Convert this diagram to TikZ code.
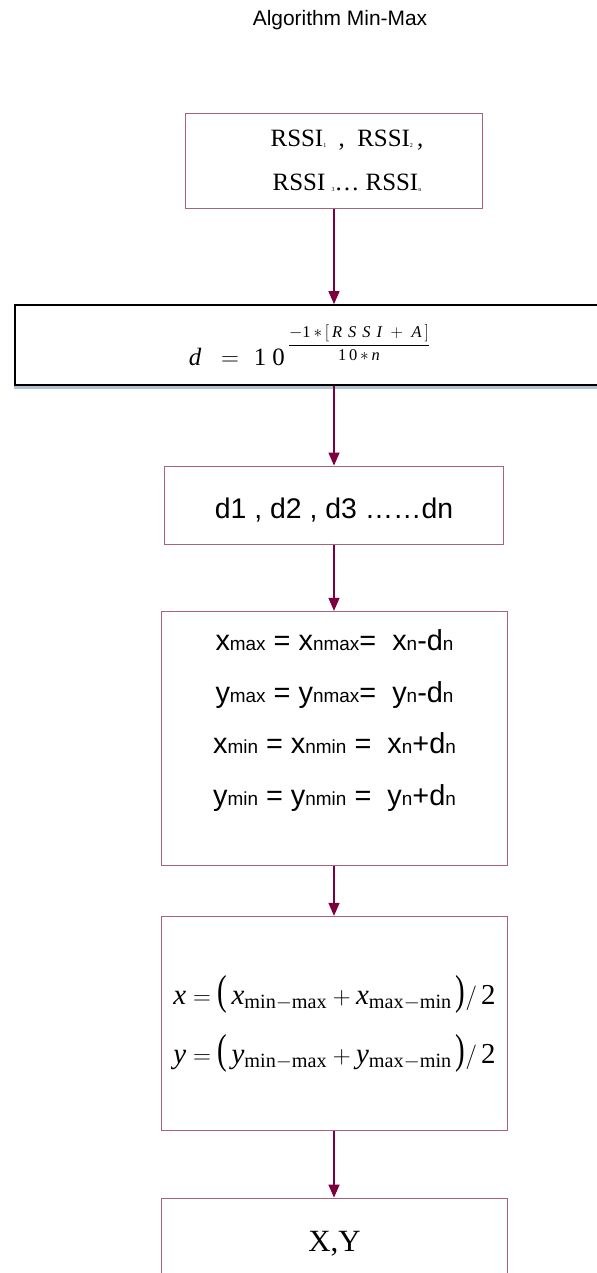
\documentclass[tikz,border=0pt]{standalone}
\usepackage{amsmath}
\usepackage{graphicx}
\usepackage{fontspec}
\setmainfont{Liberation Serif}
\newfontfamily\arialf{Liberation Sans}
\usepackage{tikz}
\usetikzlibrary{arrows.meta,calc,positioning}
\definecolor{boxline}{RGB}{166,98,128}
\definecolor{arrline}{RGB}{125,0,60}
\definecolor{shadeblue}{RGB}{175,195,215}
\newcommand{\tsub}[1]{\raisebox{-1bp}{\fontsize{6}{6}\selectfont #1}}
\newcommand{\lsub}[1]{{\fontsize{19}{19}\selectfont #1}}
\newcommand{\mm}[2]{\mathrm{#1}-\mathrm{#2}}
\newcommand{\gap}{\hspace{6bp}}
\newcommand{\tallp}[1]{\mbox{\scalebox{1}[1.45]{#1}}}

\begin{document}
\begin{tikzpicture}[x=1bp,y=-1bp,>={Triangle[length=13bp,width=11bp]},
  flowbox/.style={draw=boxline,line width=1.2bp,rectangle,inner sep=0pt,align=center},
  flowarr/.style={->,arrline,line width=1.4bp}]
  \useasboundingbox (0,0) rectangle (597,1273);
  \clip (0,0) rectangle (597,1273);
  % title
  \node (ttl) at (340,20) {\arialf\fontsize{21}{24}\selectfont Algorithm Min-Max};
  % boxes
  \node[flowbox,minimum width=298,minimum height=95,font={\fontsize{25}{44}\selectfont}] (rssi) at (334,161)
    {\hspace*{26bp}RSSI\tsub{1}\ \ ,\ \ RSSI\tsub{2}\,,\\ \hspace*{26bp}RSSI \tsub{3}\dots\ RSSI\tsub{n}};
  \fill[shadeblue] (14,386) rectangle (597,389);
  \node[rectangle,draw=black,line width=2bp,minimum width=591,minimum height=80,inner sep=0pt,font={\fontsize{25}{30}\selectfont}] (dist) at (309.5,345)
    {$\mathit{d}\hspace{13bp}=\hspace{8bp}\mathrm{1}\hspace{6bp}\mathrm{0}$\hspace{3bp}\raisebox{16bp}{\fontsize{16.5}{18}\selectfont
     $\displaystyle\frac{-\mathrm{1}\,{*}\,[\,\mathit{R}\gap\mathit{S}\gap\mathit{S}\gap\mathit{I}\;+\;\mathit{A}\,]}{\mathrm{1}\,\mathrm{0}\,{*}\,\mathit{n}}$}};
  \node[flowbox,minimum width=340,minimum height=79,text height=25bp,text depth=0pt,font={\arialf\fontsize{28.5}{32}\selectfont}] (dlist) at (334,505.5)
    {d1 , d2 , d3 ……dn};
  \node[flowbox,minimum width=347,minimum height=255,font={\arialf\fontsize{29}{52}\selectfont}] (bound) at (334.5,738.5)
    {x\lsub{max} = x\lsub{nmax}=\ \ x\lsub{n}-d\lsub{n}\\
     y\lsub{max} = y\lsub{nmax}=\ \ y\lsub{n}-d\lsub{n}\\
     x\lsub{min} = x\lsub{nmin} =\ \ x\lsub{n}+d\lsub{n}\\
     y\lsub{min} = y\lsub{nmin} =\ \ y\lsub{n}+d\lsub{n}\rule[-42bp]{0pt}{0pt}};
  \node[flowbox,minimum width=347,minimum height=215,font={\fontsize{29}{35}\selectfont}] (centre) at (334.5,1023.5)
    {$\mathit{x}=\tallp{(}\,\mathit{x}_{\mm{min}{max}}+\mathit{x}_{\mm{max}{min}}\,\tallp{)}/\,\mathrm{2}$\\[20bp]
     $\mathit{y}=\tallp{(}\,\mathit{y}_{\mm{min}{max}}+\mathit{y}_{\mm{max}{min}}\,\tallp{)}/\,\mathrm{2}$};
  \node[flowbox,minimum width=347,minimum height=92,font={\fontsize{31}{36}\selectfont}] (xy) at (334.5,1244) {X,Y};
  % connectors
  \draw[flowarr] (rssi.south) -- (rssi.south |- dist.north);
  \draw[flowarr] (dlist.north |- dist.south) -- (dlist.north);
  \draw[flowarr] (dlist.south) -- (dlist.south |- bound.north);
  \draw[flowarr] (dlist.south |- bound.south) -- (dlist.south |- centre.north);
  \draw[flowarr] (dlist.south |- centre.south) -- (dlist.south |- xy.north);
\end{tikzpicture}
\end{document}
